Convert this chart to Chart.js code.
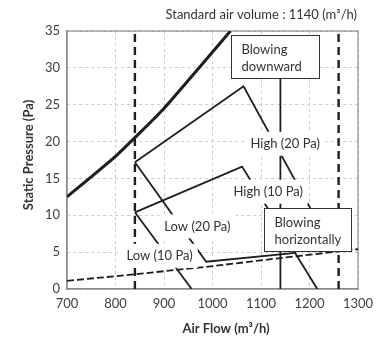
<!DOCTYPE html>
<html>
<head>
<meta charset="utf-8">
<script src="https://cdn.jsdelivr.net/npm/chart.js@4"></script>
<style>
  html, body { margin: 0; padding: 0; background: #fff; }
</style>
</head>
<body>
<canvas id="fanChart" width="385" height="338"></canvas>
<script>
// air flow (m3/h) and static pressure (Pa)
const resistFlow = [700, 800, 900, 1037];
const resistPa = [12.5, 18, 24.5, 35];

const high20Flow = [840, 1064, 1218];
const high20Pa = [17.2, 27.5, 9];
const high10Flow = [840, 1061, 1216];
const high10Pa = [10.4, 16.6, 0];
const low20Flow = [840, 987, 1171];
const low20Pa = [17.2, 3.7, 4.9];
const low10Flow = [840, 957];
const low10Pa = [10.4, 0];

const ductFlow = [700, 840, 1000, 1140, 1300];
const ductPa = [1.1, 2.0, 3.1, 4.2, 5.4];

const standardFlow = 1140;
const standardTopPa = 28.6;
const limitFlows = [840, 1260];

const curveLabels = ['High (20 Pa)', 'High (10 Pa)', 'Low (20 Pa)', 'Low (10 Pa)'];
const curveLabelFlow = [1150, 1115, 969, 891];
const curveLabelPa = [19.7, 13.2, 8.5, 4.5];

const noteLines = [['Blowing', 'downward'], ['Blowing', 'horizontally']];
const noteFlow = [[1039, 1220], [1106, 1285]];
const notePa = [[34.4, 28.6], [11.0, 5.15]];

const ctx = document.getElementById('fanChart').getContext('2d');
const FONT = 'Lato, "Noto Sans", sans-serif';
const INK = '#1e1e1e';

function toPoints(xs, ys) {
    return xs.map((x, i) => ({ x: x, y: ys[i] }));
}

function solid(xs, ys, width) {
    return {
        data: toPoints(xs, ys),
        borderColor: INK,
        borderWidth: width,
        pointRadius: 0,
        showLine: true,
        fill: false,
    };
}

const datasets = [];
const thick = solid(resistFlow, resistPa, 3);
thick.tension = 0.15;
datasets.push(thick);
datasets.push(solid(high20Flow, high20Pa, 1.8));
datasets.push(solid(high10Flow, high10Pa, 1.8));
datasets.push(solid(low20Flow, low20Pa, 1.8));
datasets.push(solid(low10Flow, low10Pa, 1.8));
datasets.push(solid([standardFlow, standardFlow], [0, standardTopPa], 1.8));

const duct = solid(ductFlow, ductPa, 1.8);
duct.borderDash = [7, 3];
datasets.push(duct);

limitFlows.forEach((f) => {
    const d = solid([f, f], [0, 35], 2.4);
    d.borderDash = [8, 5];
    datasets.push(d);
});

// white boxed text drawn over the lines
const annotations = {
    id: 'annotations',
    beforeDatasetsDraw(chart) {
        const a = chart.chartArea;
        const c = chart.ctx;
        c.save();
        c.strokeStyle = '#8a8a8a';
        c.lineWidth = 1.2;
        c.strokeRect(a.left, a.top, a.right - a.left, a.bottom - a.top);
        c.restore();
    },
    afterDatasetsDraw(chart) {
        const c = chart.ctx;
        const x = chart.scales.x;
        const y = chart.scales.y;
        c.save();
        c.font = '13px ' + FONT;
        c.textBaseline = 'middle';

        c.textAlign = 'center';
        curveLabels.forEach((text, i) => {
            const px = x.getPixelForValue(curveLabelFlow[i]);
            const py = y.getPixelForValue(curveLabelPa[i]);
            const w = c.measureText(text).width;
            c.fillStyle = '#fff';
            c.fillRect(px - w / 2 - 5, py - 12, w + 10, 24);
            c.fillStyle = '#333';
            c.fillText(text, px, py);
        });

        c.textAlign = 'left';
        noteLines.forEach((lines, i) => {
            const x0 = Math.round(x.getPixelForValue(noteFlow[i][0])) + 0.5;
            const x1 = Math.round(x.getPixelForValue(noteFlow[i][1])) + 0.5;
            const y0 = Math.round(y.getPixelForValue(notePa[i][0])) + 0.5;
            const y1 = Math.round(y.getPixelForValue(notePa[i][1])) + 0.5;
            c.fillStyle = '#fff';
            c.fillRect(x0, y0, x1 - x0, y1 - y0);
            c.strokeStyle = '#333';
            c.lineWidth = 1;
            c.strokeRect(x0, y0, x1 - x0, y1 - y0);
            c.fillStyle = '#333';
            lines.forEach((t, j) => {
                c.fillText(t, x0 + 10, y0 + 14.5 + j * 17);
            });
        });
        c.restore();
    },
    afterDraw(chart) {
        const c = chart.ctx;
        c.save();
        c.fillStyle = '#333';
        c.textBaseline = 'middle';
        c.font = '13px ' + FONT;
        c.textAlign = 'right';
        c.fillText('Standard air volume : 1140 (m\u00b3/h)', 357, 15);

        c.font = 'bold 13px ' + FONT;
        c.textAlign = 'center';
        c.fillText('Air Flow (m\u00b3/h)', 226, 329);
        c.translate(28.5, 155);
        c.rotate(-Math.PI / 2);
        c.fillText('Static Pressure (Pa)', 0, 0);
        c.restore();
    },
};

const gridStyle = {
    color: '#cccccc',
    lineWidth: 1,
    drawTicks: false,
};

new Chart(ctx, {
    type: 'scatter',
    data: { datasets },
    options: {
        responsive: false,
        animation: false,
        layout: { padding: { left: 0, right: 27, top: 31, bottom: 0 } },
        plugins: {
            legend: { display: false },
            tooltip: { enabled: false },
        },
        scales: {
            x: {
                type: 'linear',
                min: 700,
                max: 1300,
                ticks: {
                    stepSize: 100,
                    padding: 7,
                    color: '#404040',
                    font: { family: FONT, size: 13 },
                    callback: (v) => String(v),
                },
                grid: gridStyle,
                border: { dash: [3, 3], color: '#8a8a8a', width: 1.2 },
                afterFit: (s) => { s.height = 49; },
            },
            y: {
                min: 0,
                max: 35,
                ticks: { stepSize: 5, padding: 7, color: '#404040', font: { family: FONT, size: 13 } },
                grid: gridStyle,
                border: { dash: [3, 3], color: '#8a8a8a', width: 1.2 },
                afterFit: (s) => { s.width = 67; },
            },
        },
    },
    plugins: [annotations],
});
</script>
</body>
</html>
